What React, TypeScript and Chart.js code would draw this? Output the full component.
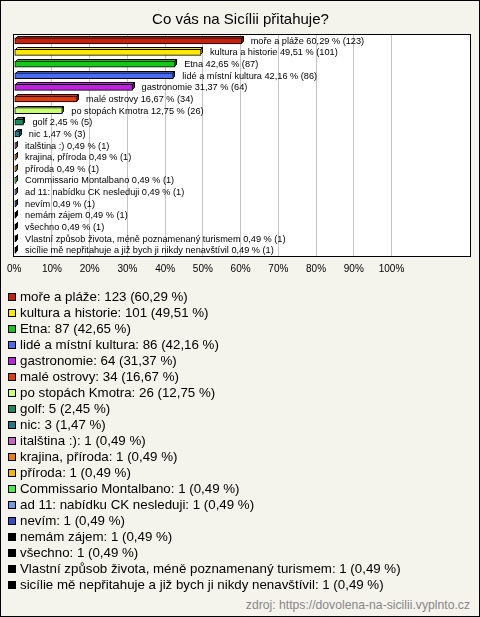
import React, { useEffect, useRef } from "react";
import { Chart, registerables } from "chart.js";

Chart.register(...registerables);

const title = "Co vás na Sicílii přitahuje?";
const categories = [
  "moře a pláže",
  "kultura a historie",
  "Etna",
  "lidé a místní kultura",
  "gastronomie",
  "malé ostrovy",
  "po stopách Kmotra",
  "golf",
  "nic",
  "italština :)",
  "krajina, příroda",
  "příroda",
  "Commissario Montalbano",
  "ad 11: nabídku CK nesleduji",
  "nevím",
  "nemám zájem",
  "všechno",
  "Vlastní způsob života, méně poznamenaný turismem",
  "sicílie mě nepřitahuje a již bych ji nikdy nenavštívil",
];
const counts = [123, 101, 87, 86, 64, 34, 26, 5, 3, 1, 1, 1, 1, 1, 1, 1, 1, 1, 1];
const percents = [
  60.29, 49.51, 42.65, 42.16, 31.37, 16.67, 12.75, 2.45, 1.47, 0.49, 0.49, 0.49,
  0.49, 0.49, 0.49, 0.49, 0.49, 0.49, 0.49,
];
const colors = [
  "#c8200a",
  "#fde800",
  "#18c818",
  "#4a6cf0",
  "#c020e0",
  "#e03c10",
  "#c8ff70",
  "#1a8c5c",
  "#237a8a",
  "#c864c8",
  "#e88010",
  "#f0b800",
  "#44ee44",
  "#6c9ce6",
  "#3050c0",
  "#000000",
  "#000000",
  "#000000",
  "#000000",
];
const xTickValues = [0, 10, 20, 30, 40, 50, 60, 70, 80, 90, 100];
const xMax = 120.8;
const source = "zdroj: https://dovolena-na-sicilii.vyplnto.cz";

const FONT = '"Liberation Sans", Arial, sans-serif';

const fmt = (v: number) => v.toFixed(2).replace(".", ",");

function darken(hex: string, f: number) {
  const n = parseInt(hex.slice(1), 16);
  const r = Math.round(((n >> 16) & 255) * f);
  const g = Math.round(((n >> 8) & 255) * f);
  const b = Math.round((n & 255) * f);
  return `rgb(${r},${g},${b})`;
}

const DEPTH = 2;

const plotPlugin = {
  id: "plot3d",
  beforeDraw(chart: any) {
    const { ctx, chartArea: a } = chart;
    ctx.save();
    ctx.fillStyle = "#ffffff";
    ctx.fillRect(a.left, a.top, a.right - a.left, a.bottom - a.top);
    ctx.restore();
  },
  beforeDatasetsDraw(chart: any) {
    const { ctx } = chart;
    const meta = chart.getDatasetMeta(0);
    ctx.save();
    ctx.lineWidth = 1;
    ctx.strokeStyle = "#000";
    meta.data.forEach((el: any, i: number) => {
      const { x, y, base, height } = el.getProps(["x", "y", "base", "height"], true);
      const top = Math.round(y - height / 2) + 0.5;
      const bottom = Math.round(y + height / 2) - 0.5;
      const xr = Math.round(x) - 0.5;
      const xl = Math.round(base) + 0.5;
      const d = DEPTH;
      ctx.beginPath();
      ctx.moveTo(xl, top);
      ctx.lineTo(xr, top);
      ctx.lineTo(xr + d, top - d);
      ctx.lineTo(xl + d, top - d);
      ctx.closePath();
      ctx.fillStyle = colors[i];
      ctx.fill();
      ctx.stroke();
      ctx.beginPath();
      ctx.moveTo(xr, top);
      ctx.lineTo(xr + d, top - d);
      ctx.lineTo(xr + d, bottom - d);
      ctx.lineTo(xr, bottom);
      ctx.closePath();
      ctx.fillStyle = darken(colors[i], 0.6);
      ctx.fill();
      ctx.stroke();
    });
    ctx.restore();
  },
  afterDatasetsDraw(chart: any) {
    const { ctx, chartArea: a } = chart;
    const meta = chart.getDatasetMeta(0);
    ctx.save();
    ctx.fillStyle = "#000";
    ctx.font = `9.2px ${FONT}`;
    ctx.textBaseline = "middle";
    ctx.textAlign = "left";
    meta.data.forEach((el: any, i: number) => {
      const { x, y } = el.getProps(["x", "y"], true);
      const label = `${categories[i]} ${fmt(percents[i])} % (${counts[i]})`;
      ctx.fillText(label, x + DEPTH + 7, y + 0.5);
    });
    ctx.strokeStyle = "#000";
    ctx.lineWidth = 1;
    ctx.strokeRect(
      Math.round(a.left) - 0.5,
      Math.round(a.top) - 0.5,
      Math.round(a.right - a.left) + 1,
      Math.round(a.bottom - a.top) + 1
    );
    ctx.restore();
  },
};

export default function App() {
  const ref = useRef<HTMLCanvasElement | null>(null);

  useEffect(() => {
    document.body.style.margin = "0";
    if (!ref.current) return;
    const chart = new Chart(ref.current, {
      type: "bar",
      data: {
        labels: categories,
        datasets: [
          {
            data: percents,
            backgroundColor: colors,
            borderColor: "#000",
            borderWidth: 1,
            borderSkipped: false,
            barThickness: 6,
          },
        ],
      },
      options: {
        indexAxis: "y",
        animation: false,
        responsive: false,
        layout: { padding: { left: 11, right: 10, top: 0, bottom: 8 } },
        plugins: {
          legend: { display: false },
          tooltip: { enabled: false },
          title: {
            display: true,
            text: title,
            color: "#000",
            font: { family: FONT, size: 15, weight: "normal" },
            padding: { top: 11, bottom: 6 },
          },
        },
        scales: {
          y: {
            display: false,
            offset: true,
          },
          x: {
            min: 0,
            max: xMax,
            afterBuildTicks: (axis: any) => {
              axis.ticks = xTickValues.map((v) => ({ value: v }));
            },
            border: { display: false },
            grid: {
              drawTicks: false,
              color: (c: any) => (c.tick && c.tick.value === 0 ? "rgba(0,0,0,0)" : "#c4c4c4"),
            },
            ticks: {
              padding: 7,
              color: "#000",
              font: { family: FONT, size: 10 },
              callback: (v: any) => `${v}%`,
              maxRotation: 0,
              autoSkip: false,
            },
          },
        },
      },
      plugins: [plotPlugin],
    });
    return () => chart.destroy();
  }, []);

  return (
    <div
      style={{
        position: "relative",
        width: 480,
        height: 617,
        boxSizing: "border-box",
        background: "#f4f3ec",
        boxShadow: "inset 0 0 0 1px #000",
        fontFamily: FONT,
        overflow: "hidden",
      }}
    >
      <canvas
        ref={ref}
        width={480}
        height={290}
        style={{ position: "absolute", left: 0, top: 0, width: 480, height: 290 }}
      />
      <div style={{ position: "absolute", left: 8, top: 289 }}>
        {categories.map((c, i) => (
          <div
            key={c}
            style={{ height: 16, lineHeight: "16px", fontSize: 13.3, color: "#000", whiteSpace: "nowrap", display: "flex", alignItems: "center" }}
          >
            <span
              style={{
                display: "inline-block",
                width: 8,
                height: 8,
                boxSizing: "border-box",
                border: "1px solid #000",
                background: colors[i],
                marginRight: 4,
                flex: "none",
              }}
            />
            <span>{`${c}: ${counts[i]} (${fmt(percents[i])} %)`}</span>
          </div>
        ))}
      </div>
      <div
        style={{
          position: "absolute",
          right: 10,
          top: 597,
          fontSize: 12.2,
          lineHeight: "16px",
          color: "#888",
          whiteSpace: "nowrap",
        }}
      >
        {source}
      </div>
    </div>
  );
}
